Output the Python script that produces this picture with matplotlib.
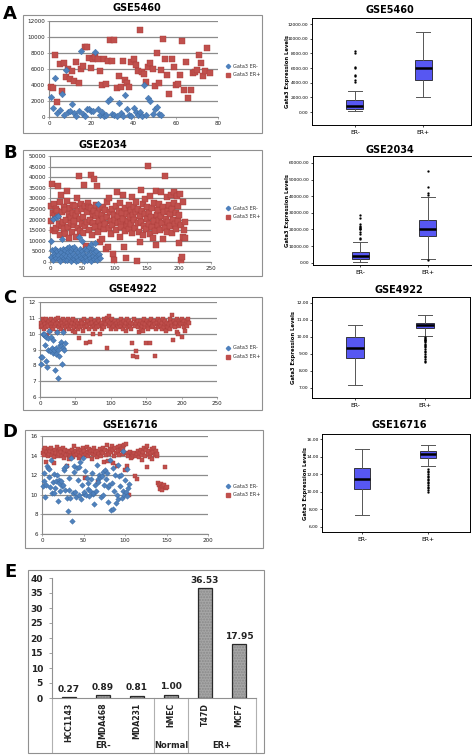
import numpy as np
import matplotlib.pyplot as plt
from matplotlib.patches import Rectangle
from matplotlib.lines import Line2D

W, H = 472, 756

# ---------------- scatter data (expression per sample, in sample order) ----------------
# GSE5460 (values in thousands)
a_neg = [2.5, 1.1, 4.9, 0.5, 0.9, 2.9, 0.3, 5.9, 0.6, 0.8, 1.6, 0.5, 0.1, 0.8, 8.3, 0.4, 0.1,
         1.0, 1.0, 0.8, 0.8, 8.1, 1.0, 0.2, 0.6, 0.1, 0.2, 2.0, 2.2, 0.4, 0.2, 0.1, 1.7, 0.5,
         0.1, 2.8, 1.0, 0.2, 0.1, 1.1, 0.6, 0.3, 0.6, 0.1, 4.0, 0.3, 2.4, 2.0, 0.4, 1.0, 1.2,
         0.4, 0.3]
a_pos = [3.8, 3.6, 7.8, 1.9, 6.6, 3.2, 6.8, 5.0, 6.0, 4.8, 5.8, 4.5, 6.9, 4.2, 6.0, 6.4, 8.7,
         8.8, 7.4, 6.1, 7.2, 7.5, 7.2, 5.7, 4.0, 7.3, 4.1, 7.0, 9.6, 7.0, 9.6, 3.6, 5.1, 3.8,
         7.0, 4.6, 4.2, 3.8, 6.9, 7.3, 6.5, 5.8, 10.9, 5.6, 5.4, 4.4, 6.3, 6.8, 6.0, 3.9, 8.0,
         4.3, 5.9, 9.8, 7.3, 5.3, 2.9, 7.3, 6.2, 4.0, 4.1, 5.2, 9.5, 3.4, 6.9, 2.4, 3.4, 5.5,
         5.6, 5.9, 7.7, 6.8, 5.1, 5.8, 8.6, 5.5]

# GSE2034 (values in thousands)
b_neg = [10.0, 2.5, 5.5, 1.0, 20.5, 4.0, 3.0, 6.0, 21.0, 2.0, 5.0, 21.5, 3.5, 1.5, 5.5, 0.5,
         4.5, 3.0, 11.0, 6.0, 2.0, 4.0, 0.8, 5.5, 3.0, 6.5, 1.0, 4.5, 2.5, 7.0, 3.5, 0.5, 5.0,
         6.5, 2.0, 4.0, 1.5, 7.0, 3.0, 5.5, 0.5, 2.5, 4.5, 1.0, 12.0, 6.0, 3.5, 2.0, 5.0, 10.0,
         1.5, 4.0, 0.5, 6.0, 3.0, 2.5, 5.5, 1.0, 4.0, 7.0, 3.5, 2.0, 8.5, 0.5, 5.0, 3.0, 6.0,
         1.5, 4.5, 9.0, 2.5, 5.0, 1.0, 3.5, 27.5, 4.0, 2.0]
b_pos = [19.5, 26.5, 37.0, 15.0, 23.0, 27.5, 14.5, 22.0, 25.0, 16.0,
         24.0, 21.5, 36.0, 18.0, 28.5, 12.5, 31.5, 17.0, 23.5, 19.0,
         26.0, 15.5, 13.0, 24.5, 20.0, 29.0, 33.5, 16.5, 22.5, 11.5,
         25.5, 18.5, 21.0, 14.0, 27.0, 23.0, 17.5, 19.5, 26.5, 12.0,
         22.0, 30.0, 16.0, 24.0, 40.5, 20.5, 14.5, 27.5, 18.0, 25.0,
         13.5, 21.0, 36.5, 17.0, 26.5, 7.5, 23.5, 19.0, 28.0, 26.0,
         15.0, 20.0, 41.0, 25.5, 12.5, 22.5, 18.5, 39.0, 24.0, 16.5,
         21.5, 27.0, 36.0, 14.0, 23.0, 19.5, 9.5, 25.5, 17.0, 22.0,
         11.0, 26.0, 20.5, 15.5, 24.5, 18.0, 6.0, 28.5, 21.0, 7.0,
         16.0, 30.0, 23.5, 13.0, 19.5, 25.0, 17.5, 4.0, 22.0, 1.0,
         20.0, 26.5, 15.0, 33.0, 21.5, 18.5, 24.0, 12.0, 28.0, 19.0,
         16.5, 23.0, 31.5, 20.5, 7.0, 14.5, 25.5, 2.0, 22.5, 17.5,
         19.5, 27.0, 15.5, 21.0, 24.5, 18.0, 30.5, 13.5, 22.0, 26.0,
         20.0, 16.0, 28.5, 23.5, 0.5, 18.5, 25.0, 14.0, 21.5, 9.5,
         34.0, 19.0, 24.0, 12.5, 27.5, 17.0, 22.5, 29.5, 15.5, 20.5,
         26.0, 45.5, 18.0, 23.0, 13.0, 31.0, 21.0, 16.5, 25.5, 11.5,
         19.5, 28.0, 14.5, 33.5, 8.0, 22.0, 17.5, 24.5, 20.0, 27.5,
         15.0, 33.0, 21.5, 18.5, 11.0, 26.0, 23.5, 40.5, 16.0, 20.5,
         30.5, 14.0, 24.0, 19.0, 27.0, 22.5, 17.0, 31.5, 13.5, 25.0,
         20.0, 33.0, 28.0, 18.0, 23.0, 15.5, 31.0, 26.5, 19.5, 9.0,
         22.0, 32.0, 1.0, 17.5, 2.5, 28.5, 12.0, 15.0, 11.5, 19.0]

# GSE4922
c_neg = [8.1, 8.5, 8.5, 10.0, 9.9, 10.0, 9.3, 8.3, 9.8, 7.9, 9.7, 9.0, 10.2, 8.9, 9.8, 9.0,
         9.1, 8.8, 9.6, 9.0, 7.7, 9.1, 8.7, 10.1, 9.0, 7.2, 8.6, 9.3, 9.5, 9.2, 8.1, 10.1,
         9.1, 9.0, 9.4]
c_pos = [10.4, 10.7, 10.5, 10.9, 10.3, 10.8, 10.6, 10.4, 10.9, 9.9,
         10.7, 10.5, 10.8, 10.2, 10.6, 10.9, 10.4, 10.7, 10.3, 10.8,
         10.5, 10.6, 10.9, 10.1, 10.7, 11.0, 10.4, 10.6, 10.8, 10.3,
         10.7, 10.5, 10.9, 10.2, 10.6, 10.8, 10.4, 10.7, 10.5, 10.9,
         10.3, 10.6, 10.8, 10.5, 10.7, 10.2, 10.9, 10.4, 10.6, 10.1,
         10.8, 10.5, 10.7, 10.3, 9.7, 10.6, 10.4, 10.8, 10.5, 10.7,
         10.2, 10.9, 10.6, 10.4, 9.4, 10.7, 10.5, 10.8, 10.3, 9.5,
         10.6, 10.9, 10.4, 10.7, 10.0, 10.5, 10.8, 10.3, 10.6, 10.7,
         10.4, 10.9, 10.5, 10.8, 10.0, 10.6, 10.3, 10.7, 10.5, 10.9,
         10.4, 10.7, 10.6, 11.0, 9.1, 10.8, 11.1, 10.5, 10.7, 10.3,
         10.6, 10.9, 10.4, 10.7, 10.5, 10.8, 10.6, 10.3, 10.7, 10.5,
         10.8, 10.4, 10.6, 10.9, 10.5, 10.7, 10.3, 10.6, 10.8, 10.5,
         10.2, 10.7, 10.9, 10.4, 10.6, 10.8, 10.5, 10.7, 10.3, 9.4,
         10.6, 8.6, 10.9, 10.5, 8.9, 10.7, 8.5, 10.4, 10.8, 10.1,
         10.6, 10.3, 10.8, 10.5, 10.2, 10.7, 10.9, 10.4, 10.6, 9.4,
         10.8, 10.5, 10.3, 10.7, 9.4, 10.6, 10.9, 10.4, 10.7, 10.5,
         10.8, 8.6, 10.6, 10.3, 10.7, 10.5, 10.9, 10.4, 10.6, 10.8,
         10.5, 10.3, 10.7, 10.9, 10.4, 10.6, 10.8, 10.2, 10.5, 10.7,
         10.4, 10.6, 10.9, 10.3, 10.7, 10.5, 11.2, 9.6, 10.8, 10.6,
         10.4, 10.7, 10.9, 10.1, 10.0, 10.8, 10.5, 10.7, 10.6, 9.8,
         10.9, 10.7, 10.4, 10.8, 10.2, 10.6, 10.8, 10.5, 10.9, 10.7]

# GSE16716
d_neg = [10.9, 12.2, 11.4, 9.8, 11.0, 12.9, 12.7, 11.8, 12.6, 10.8,
         13.6, 10.2, 11.3, 12.1, 10.2, 10.7, 11.4, 12.0, 9.4, 11.5,
         11.2, 10.4, 11.4, 10.9, 11.0, 12.5, 12.7, 10.5, 12.9, 9.7,
         8.3, 11.7, 10.5, 9.7, 13.8, 7.3, 10.2, 12.3, 12.9, 10.3,
         9.8, 12.7, 11.5, 10.0, 12.8, 13.3, 9.6, 11.0, 13.8, 10.1,
         10.3, 12.4, 10.0, 11.7, 10.6, 11.2, 9.9, 10.4, 11.6, 12.2,
         10.1, 10.2, 9.1, 11.0, 10.4, 13.0, 11.6, 11.3, 12.0, 11.8,
         9.8, 11.9, 10.0, 12.3, 11.0, 12.5, 11.6, 12.2, 9.3, 10.8,
         11.0, 13.6, 8.4, 11.2, 12.7, 8.6, 10.4, 12.0, 9.2, 10.0,
         13.0, 9.6, 11.9, 10.9, 12.0, 9.7, 14.5, 10.4, 10.0, 11.5,
         10.3, 12.6, 9.9, 10.7, 11.1]
d_pos = [14.3, 14.6, 14.1, 14.8, 13.3, 14.4, 14.0, 14.7, 14.2, 14.5,
         14.8, 14.1, 14.4, 13.9, 13.2, 14.6, 14.3, 14.9, 14.0, 14.5,
         14.2, 14.7, 14.4, 14.0, 14.8, 14.3, 13.8, 14.6, 14.1, 12.9,
         14.5, 14.2, 13.7, 14.4, 14.0, 14.6, 13.9, 14.3, 15.0, 14.1,
         14.5, 14.2, 14.7, 13.8, 14.4, 14.0, 14.6, 14.3, 14.8, 14.1,
         14.5, 11.7, 14.2, 14.9, 14.4, 14.0, 14.7, 14.3, 14.5, 13.7,
         14.2, 14.6, 14.8, 14.1, 14.4, 13.9, 11.3, 14.5, 14.2, 14.7,
         14.0, 14.4, 14.8, 14.3, 13.3, 14.6, 14.1, 15.1, 14.5, 13.5,
         14.2, 14.7, 14.4, 15.0, 13.2, 14.6, 14.0, 14.8, 14.3, 12.9,
         14.9, 14.5, 14.1, 15.0, 14.6, 14.8, 14.2, 14.7, 15.1, 12.5,
         15.2, 14.3, 12.9, 14.0, 10.0, 14.4, 13.8, 14.2, 13.9, 14.1,
         14.3, 11.9, 14.0, 11.6, 14.2, 14.5, 13.9, 14.3, 14.6, 13.6,
         14.1, 14.4, 14.8, 14.0, 14.6, 12.8, 15.0, 14.2, 14.5, 13.9,
         14.3, 14.7, 13.7, 14.4, 14.8, 14.1, 14.5, 14.0, 14.2, 11.2,
         11.0, 10.6, 11.1, 10.8, 10.5, 10.9, 11.0, 12.8, 10.7, 10.8]

# ---------------- box plot summaries: [whislo, q1, median, q3, whishi] ----------------
a_neg_box = [100, 400, 800, 1600, 2900]
a_neg_out = [4100, 4400, 4900, 5100, 6000, 6200, 8100, 8300]
a_pos_box = [2000, 4400, 5950, 7100, 10900]
a_pos_out = []

b_neg_box = [500, 2500, 4000, 6500, 12500]
b_neg_out = [14000, 15000, 17000, 18500, 20000, 20500, 21000, 21500, 22000, 23000, 27000, 28500]
b_pos_box = [2000, 16000, 20500, 25500, 39500]
b_pos_out = [1500, 41000, 42000, 45500, 55000]

c_neg_box = [7.2, 8.75, 9.35, 10.0, 10.7]
c_neg_out = []
c_pos_box = [10.05, 10.55, 10.7, 10.8, 11.3]
c_pos_out = [10.0, 9.95, 9.9, 9.85, 9.8, 9.75, 9.7, 9.6, 9.5, 9.45, 9.4, 9.3, 9.2, 9.1,
             9.0, 8.9, 8.8, 8.7, 8.6, 8.5]

d_neg_box = [7.35, 10.3, 11.45, 12.7, 14.85]
d_neg_out = []
d_pos_box = [12.9, 13.85, 14.25, 14.6, 15.3]
d_pos_out = [12.6, 12.4, 12.2, 12.0, 11.8, 11.7, 11.5, 11.3, 11.1, 11.0, 10.8, 10.6, 10.4,
             10.2, 10.0]

# ---------------- panel E ----------------
cell_lines = ['HCC1143', 'MDA468', 'MDA231', 'hMEC', 'T47D', 'MCF7']
fold_change = [0.27, 0.89, 0.81, 1.00, 36.53, 17.95]
group_names = ['ER-', 'Normal', 'ER+']
group_members = [[0, 1, 2], [3], [4, 5]]

BLUE = '#4F81BD'
RED = '#C0504D'
GRID = '#8c8c8c'

fig = plt.figure(figsize=(W / 100, H / 100), dpi=100)


def px_axes(l, t, r, b):
    return fig.add_axes([l / W, 1 - b / H, (r - l) / W, (b - t) / H])


def ftext(x, y, s, **kw):
    fig.text(x / W, 1 - y / H, s, **kw)


def frame(l, t, r, b):
    fig.add_artist(Rectangle((l / W, 1 - b / H), (r - l) / W, (b - t) / H,
                             transform=fig.transFigure, fill=False, ec='#909090', lw=0.8))


def scatter_panel(box, neg, pos, scale, xmax, xstep, ylo, yhi, ystep, msize, fr, leg_y):
    ax = px_axes(*box)
    xn = np.arange(1, len(neg) + 1)
    xp = np.arange(1, len(pos) + 1)
    ax.scatter(xp, np.array(pos) * scale, marker='s', s=msize, color=RED,
               edgecolors='#a83a37', linewidths=0.3, zorder=3, clip_on=False)
    ax.scatter(xn, np.array(neg) * scale, marker='D', s=msize * 0.8, color=BLUE,
               edgecolors='#3b6aa0', linewidths=0.3, zorder=4, clip_on=False)
    ax.set_xlim(0, xmax)
    ax.set_ylim(ylo, yhi)
    ax.set_xticks(np.arange(0, xmax + 1, xstep))
    ax.set_yticks(np.arange(ylo, yhi + ystep / 2, ystep))
    ax.yaxis.grid(True, color=GRID, lw=0.9)
    ax.set_axisbelow(True)
    for s in ['top', 'right']:
        ax.spines[s].set_visible(False)
    for s in ['left', 'bottom']:
        ax.spines[s].set_color(GRID)
        ax.spines[s].set_linewidth(0.8)
    ax.tick_params(labelsize=4.1, length=1.5, width=0.5, color=GRID, pad=1.5,
                   labelcolor='#222222')
    frame(*fr)
    for (yy, mk, col, lab) in [(leg_y, 'D', BLUE, 'Gata3 ER-'), (leg_y + 9, 's', RED, 'Gata3 ER+')]:
        fig.add_artist(Line2D([228 / W], [1 - yy / H], transform=fig.transFigure, marker=mk,
                              color=col, ms=2.6 if mk == 's' else 2.2, ls='none'))
        ftext(233, yy, lab, fontsize=3.6, va='center', color='#333333')
    return ax


def box_panel(box, nb, no, pb, po, ylo, yhi, ytk, xlim, title, tx, ty, ylx):
    ax = px_axes(*box)
    stats = []
    for lab, b5, fl in [('ER-', nb, no), ('ER+', pb, po)]:
        stats.append(dict(label=lab, whislo=b5[0], q1=b5[1], med=b5[2], q3=b5[3],
                          whishi=b5[4], fliers=fl))
    ax.bxp(stats, positions=[1, 2], widths=0.25, capwidths=0.2, patch_artist=True,
           boxprops=dict(facecolor='#5757f2', edgecolor='#222222', lw=0.6),
           medianprops=dict(color='black', lw=1.8),
           whiskerprops=dict(color='#555555', lw=0.7),
           capprops=dict(color='#555555', lw=0.7),
           flierprops=dict(marker='o', ms=1.4, mfc='black', mec='black', mew=0.2))
    ax.set_xlim(*xlim)
    ax.set_ylim(ylo, yhi)
    ax.set_yticks(ytk)
    ax.set_yticklabels(['%.2f' % v for v in ytk])
    ax.tick_params(axis='y', labelsize=3.2, length=1.5, width=0.5, pad=1)
    ax.tick_params(axis='x', labelsize=4.3, length=1.5, width=0.5, pad=2)
    for s in ax.spines.values():
        s.set_linewidth(0.7)
    ftext(tx, ty, title, fontsize=7, fontweight='bold', ha='center', va='center')
    ftext(ylx, (box[1] + box[3]) / 2, 'Gata3 Expression Levels', fontsize=3.8,
          fontweight='bold', rotation=90, ha='center', va='center')
    return ax


# ---- A ----
ftext(10, 14, 'A', fontsize=13, fontweight='bold', ha='center', va='center')
ftext(137, 8, 'GSE5460', fontsize=7, fontweight='bold', ha='center', va='center')
scatter_panel((49, 21, 218, 117), a_neg, a_pos, 1000, 80, 20, 0, 12000, 2000, 14,
              (23, 15, 262, 133), 66)
box_panel((312, 18, 471, 125), a_neg_box, a_neg_out, a_pos_box, a_pos_out,
          -1770, 12820, list(range(0, 12001, 2000)), (0.369, 2.705), 'GSE5460', 390, 10, 287)

# ---- B ----
ftext(10, 153, 'B', fontsize=13, fontweight='bold', ha='center', va='center')
ftext(103, 145, 'GSE2034', fontsize=7, fontweight='bold', ha='center', va='center')
scatter_panel((50, 156, 211, 262), b_neg, b_pos, 1000, 250, 50, 0, 50000, 5000, 13,
              (23, 150, 262, 276), 208)
box_panel((313, 156, 472, 265), b_neg_box, b_neg_out, b_pos_box, b_pos_out,
          -1400, 64200, list(range(0, 60001, 10000)), (0.307, 2.649), 'GSE2034', 390, 150, 287)

# ---- C ----
ftext(10, 298, 'C', fontsize=13, fontweight='bold', ha='center', va='center')
ftext(133, 289, 'GSE4922', fontsize=7, fontweight='bold', ha='center', va='center')
scatter_panel((40, 302, 217, 397), c_neg, c_pos, 1, 250, 50, 6, 12, 1, 11,
              (23, 297, 262, 410), 348)
box_panel((312, 297, 470, 398), c_neg_box, c_neg_out, c_pos_box, c_pos_out,
          6.41, 12.35, [7, 8, 9, 10, 11, 12], (0.386, 2.643), 'GSE4922', 399, 290, 293)

# ---- D ----
ftext(10, 432, 'D', fontsize=13, fontweight='bold', ha='center', va='center')
ftext(130, 425, 'GSE16716', fontsize=7, fontweight='bold', ha='center', va='center')
scatter_panel((42, 436, 208, 534), d_neg, d_pos, 1, 200, 50, 6, 16, 2, 10,
              (25, 430, 263, 548), 486)
box_panel((322, 434, 470, 532), d_neg_box, d_neg_out, d_pos_box, d_pos_out,
          5.43, 16.57, [6, 8, 10, 12, 14, 16], (0.395, 2.637), 'GSE16716', 399, 425, 305)

# ---- E ----
ftext(10, 572, 'E', fontsize=13, fontweight='bold', ha='center', va='center')
frame(28, 570, 264, 753)
ax = px_axes(52, 578, 256, 698)
xs = np.arange(len(cell_lines))
ax.bar(xs, fold_change, width=0.4, color='#a6a6a6', hatch='......', edgecolor='#8a8a8a',
       lw=0, zorder=2)
ax.bar(xs, fold_change, width=0.4, fill=False, edgecolor='#2a2a2a', lw=0.9, zorder=3)
for x, v in zip(xs, fold_change):
    ax.text(x, v + 1.2, '%.2f' % v, ha='center', va='bottom', fontsize=6.5,
            fontweight='bold', color='#222222')
ax.set_xlim(-0.5, len(cell_lines) - 0.5)
ax.set_ylim(0, 40)
ax.set_yticks(range(0, 41, 5))
ax.set_xticks([])
for s in ['top', 'right']:
    ax.spines[s].set_visible(False)
for s in ['left', 'bottom']:
    ax.spines[s].set_color('#909090')
    ax.spines[s].set_linewidth(0.8)
ax.tick_params(axis='y', labelsize=6.5, length=2.5, width=0.6, color='#909090', pad=4,
               labelcolor='#222222')
for lab in ax.get_yticklabels():
    lab.set_fontweight('bold')
tr = ax.get_xaxis_transform()
for x, name in zip(xs, cell_lines):
    ax.text(x, -0.04, name, rotation=90, ha='center', va='top', fontsize=5.6,
            fontweight='bold', color='#222222', transform=tr)
for name, mem in zip(group_names, group_members):
    ax.text(np.mean(mem), -0.40, name, ha='center', va='center', fontsize=6,
            fontweight='bold', color='#222222', transform=tr)
for sep in [-0.5, 2.5, 3.5, 5.5]:
    ax.plot([sep, sep], [0, -0.45], color='#b0b0b0', lw=0.8, transform=tr, clip_on=False)

fig.savefig('out.png', dpi=100)
